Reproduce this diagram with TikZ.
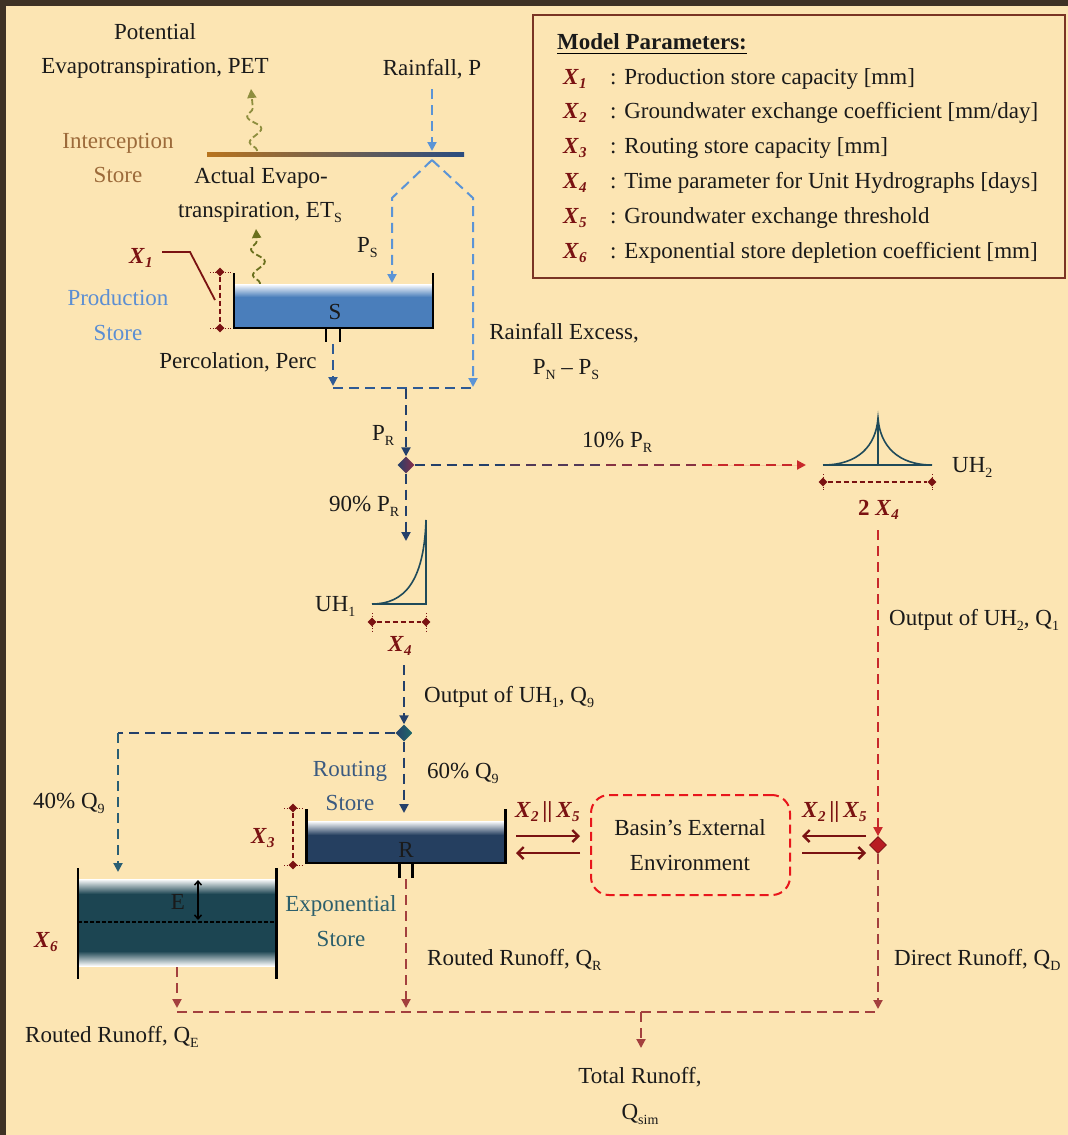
\documentclass[tikz,border=0pt]{standalone}
\usepackage{fontspec}
\setmainfont{Liberation Serif}
\usetikzlibrary{arrows.meta,shapes.geometric,decorations.pathmorphing,calc}
\definecolor{bg}{HTML}{FCE5B3}
\definecolor{framec}{HTML}{3E3225}
\definecolor{txtc}{HTML}{1A1A1A}
\definecolor{lblue}{HTML}{5B94D6}
\definecolor{mblue}{HTML}{2E5A94}
\definecolor{dblue}{HTML}{24406A}
\definecolor{teal2}{HTML}{2A5E74}
\definecolor{olive}{HTML}{8E8E3E}
\definecolor{dolive}{HTML}{6A701E}
\definecolor{pwater}{HTML}{4A7EBB}
\definecolor{rwater}{HTML}{253F60}
\definecolor{ewater}{HTML}{1C4552}
\definecolor{xred}{HTML}{7A1212}
\definecolor{rred}{HTML}{C8282B}
\definecolor{brun}{HTML}{A3403E}
\definecolor{uhc}{HTML}{1F4A5A}
\definecolor{basinc}{HTML}{E8161C}
\definecolor{prodc}{HTML}{5B8ED3}
\definecolor{routc}{HTML}{3B5A80}
\definecolor{expc}{HTML}{2C5F6C}
\definecolor{intc}{HTML}{9C6A3A}
\definecolor{intL}{HTML}{B8741E}
\definecolor{intR}{HTML}{2A4C80}
\definecolor{legbox}{HTML}{7A3424}
\definecolor{dOner}{HTML}{8A2C4A}
\definecolor{dTwor}{HTML}{1E6A6A}
\definecolor{dThree}{HTML}{B81C22}
\definecolor{dThreeb}{HTML}{7A1015}
\newcommand\sbs[1]{\raisebox{-5pt}{\fontsize{14}{14}\selectfont #1}}
\newcommand\xpar[1]{\textcolor{xred}{\textbf{\textit{X}}\raisebox{-4pt}{\fontsize{15}{15}\selectfont\bfseries\itshape #1}}}
\begin{document}
\begin{tikzpicture}[x=1pt,y=-1pt,
  txt/.style={inner sep=0pt, font=\fontsize{23}{35}\selectfont, text=txtc},
  dflow/.style={line width=2pt, dash pattern=on 10pt off 6pt},
  arr/.style={-{Triangle[length=9pt,width=9pt]}},
  wall/.style={line width=2.6pt, draw=black},
  dimln/.style={draw=xred, line width=2pt, dash pattern=on 5pt off 3pt},
  dimtick/.style={draw=xred, line width=1pt, dash pattern=on 1pt off 1.5pt},
  dimend/.style={diamond, fill=xred, inner sep=0pt, minimum size=9pt},
  xchg/.style={draw=xred, line width=2.4pt, -{Straight Barb[length=6pt,width=12pt]}},
  wavy/.style={decorate, decoration={snake, amplitude=6.5pt, segment length=26pt, pre length=1pt, post length=10pt}, line width=1.8pt, dash pattern=on 6pt off 3pt},
  uhl/.style={draw=uhc, line width=1.6pt}]
\fill[framec] (0,0) rectangle (1068,1135);
\fill[bg] (6,6) rectangle (1068,1135);
\useasboundingbox (0,0) rectangle (1068,1135);

% ---------- top texts
\node[txt, anchor=base] (potl) at (155,39) {Potential};
\node[txt, anchor=base] (pet) at (155,73) {Evapotranspiration, PET};
\node[txt, anchor=base] (rain) at (432,75) {Rainfall, P};
\node[txt, anchor=base, text=intc] (int1) at (118,148) {Interception};
\node[txt, anchor=base, text=intc] (int2) at (118,182) {Store};
\node[txt, anchor=base] (aet1) at (261,183) {Actual Evapo-};
\node[txt, anchor=base] (aet2) at (260,217) {transpiration, ET\sbs{S}};
\node[txt, anchor=base west] (ps) at (357,252) {P\sbs{S}};
\node[txt, anchor=base west] (x1) at (129,263) {\xpar{1}};
\node[txt, anchor=base, text=prodc] (prod1) at (118,305) {Production};
\node[txt, anchor=base, text=prodc] (prod2) at (118,340) {Store};
\node[txt, anchor=base] (perc) at (238,368) {Percolation, Perc};
\node[txt, anchor=base] (rex1) at (564,339) {Rainfall Excess,};
\node[txt, anchor=base] (rex2) at (566,374) {P\sbs{N} -- P\sbs{S}};

% ---------- legend
\draw[legbox, line width=2pt] (533,15) rectangle (1065,278);
\node[txt, anchor=base west, font=\fontsize{23}{35}\selectfont\bfseries] (mp) at (557,49) {Model Parameters:};
\draw[line width=1.6pt] ([yshift=-4pt]mp.south west) -- ([yshift=-4pt]mp.south east);
\foreach \i/\t in {1/{Production store capacity [mm]},2/{Groundwater exchange coefficient [mm/day]},3/{Routing store capacity [mm]},4/{Time parameter for Unit Hydrographs [days]},5/{Groundwater exchange threshold},6/{Exponential store depletion coefficient [mm]}}{
  \node[txt, anchor=base west] (xl\i) at (563,{84+34.9*(\i-1)}) {\xpar{\i}};
  \node[txt, anchor=base west] (xd\i) at (610,{84+34.9*(\i-1)}) {: \t};
}

% ---------- rainfall and interception
\coordinate (rtop) at (432,89);
\coordinate (rhit) at (432,151);
\draw[dflow, arr, lblue] (rtop) -- (rhit);
\shade[left color=intL, right color=intR] (207,152.5) rectangle (464,156);
\coordinate (apex) at (432,160);
\coordinate (psend) at (392,283);
\coordinate (rexend) at (473,387);
\draw[dflow, arr, lblue] (apex) -- (392,198) -- (psend);
\draw[dflow, arr, lblue] (apex) -- (473,198) -- (rexend);
\draw[wavy, olive, arr] (257,151) -- (251,89);
\draw[wavy, dolive, arr] (260,284) -- (256,229);

% ---------- production store
\fill[pwater] (234,284) rectangle (433,328);
\shade[top color=white, bottom color=pwater] (234,284) rectangle (433,297);
\draw[wall] (234,273) -- (234,328) -- (433,328) -- (433,273);
\draw[wall] (326,328) -- (326,342) (340,328) -- (340,342);
\node[txt, anchor=base] (slab) at (335,319) {S};
\node[dimend] (x1a) at (220,272) {};
\node[dimend] (x1b) at (220,328) {};
\draw[dimln] (x1a) -- (x1b);
\draw[dimtick] (210,272) -- (232,272) (210,328) -- (232,328);
\coordinate (x1lead) at (162,252);
\draw[xred, line width=1.8pt] (x1lead) -- (190,252) -- (215,300);

% ---------- percolation and P_R
\coordinate (outS) at (333,344);
\coordinate (percend) at (333,386);
\draw[dflow, arr, mblue] (outS) -- (percend);
\draw[dflow, mblue] (333,388) -- (473,388);
\coordinate (jn1) at (406,389);
\node[diamond, inner sep=0pt, minimum size=17pt, left color=dblue, right color=dOner] (d1) at (406,465) {};
\draw[dflow, arr, dblue] (jn1) -- (d1.north);
\node[txt, anchor=base west] (pr) at (372,440) {P\sbs{R}};
\node[txt, anchor=base west] (p10) at (582,447) {10\% P\sbs{R}};
\node[txt, anchor=base west] (p90) at (329,511) {90\% P\sbs{R}};

% 10% branch (colour gradient by segments)
\coordinate (c1) at (510,465);
\coordinate (c2) at (606,465);
\coordinate (c3) at (702,465);
\coordinate (uh2in) at (806,465);
\draw[dflow, draw=dblue] (d1.east) -- (c1);
\draw[dflow, draw=dblue!72!rred] (c1) -- (c2);
\draw[dflow, draw=dblue!40!rred] (c2) -- (c3);
\draw[dflow, arr, draw=rred, fill=rred] (c3) -- (uh2in);

% 90% branch and UH1
\coordinate (uh1in) at (406,541);
\draw[dflow, arr, dblue] (d1.south) -- (uh1in);
\draw[uhl] (372,604) .. controls (404,604) and (424,582) .. (426,520) -- (426,604) -- (372,604);
\node[txt, anchor=base west] (uh1) at (315,611) {UH\sbs{1}};
\node[dimend] (x4a) at (372,622) {};
\node[dimend] (x4b) at (426,622) {};
\draw[dimln] (x4a) -- (x4b);
\draw[dimtick] (372,613) -- (372,631) (426,613) -- (426,631);
\node[txt, anchor=base west] (x4) at (388,651) {\xpar{4}};

% UH2
\draw[uhl] (823,465) -- (932,465);
\draw[uhl] (823,465) .. controls (858,465) and (876,446) .. (878,418) .. controls (880,446) and (898,465) .. (932,465);
\draw[uhl] (878,418) -- (878,465);
\node[txt, anchor=base west] (uh2) at (952,472) {UH\sbs{2}};
\node[dimend] (x4c) at (823,482) {};
\node[dimend] (x4d) at (932,482) {};
\draw[dimln] (x4c) -- (x4d);
\draw[dimtick] (823,474) -- (823,491) (932,474) -- (932,491);
\node[txt, anchor=base west, text=xred] (x42) at (858,515) {\textbf{2} \xpar{4}};

% ---------- UH1 output and split
\coordinate (uh1out) at (404,665);
\node[diamond, inner sep=0pt, minimum size=17pt, left color=dblue, right color=dTwor] (d2) at (404,733) {};
\draw[dflow, arr, dblue] (uh1out) -- (d2.north);
\node[txt, anchor=base west] (ouh1) at (424,702) {Output of UH\sbs{1}, Q\sbs{9}};
\coordinate (c40) at (118,733);
\coordinate (expin) at (118,872);
\draw[dflow, dblue] (d2.west) -- (c40);
\draw[dflow, arr, teal2] (c40) -- (expin);
\node[txt, anchor=base west] (q40) at (33,808) {40\% Q\sbs{9}};
\coordinate (routin) at (404,813);
\draw[dflow, arr, dblue] (d2.south) -- (routin);
\node[txt, anchor=base west] (q60) at (427,778) {60\% Q\sbs{9}};
\node[txt, anchor=base, text=routc] (rout1) at (350,776) {Routing};
\node[txt, anchor=base, text=routc] (rout2) at (350,810) {Store};

% ---------- routing store
\fill[rwater] (306.5,821) rectangle (505.5,863);
\shade[top color=white, bottom color=rwater] (306.5,821) rectangle (505.5,835);
\draw[wall] (306.5,809) -- (306.5,863) -- (505.5,863) -- (505.5,809);
\draw[wall] (399.5,863) -- (399.5,878) (412.5,863) -- (412.5,878);
\node[txt, anchor=base] (rlab) at (406,857) {R};
\node[dimend] (x3a) at (293,808) {};
\node[dimend] (x3b) at (293,865) {};
\draw[dimln] (x3a) -- (x3b);
\draw[dimtick] (284,808) -- (303,808) (284,865) -- (303,865);
\node[txt, anchor=base west] (x3) at (251,843) {\xpar{3}};

% ---------- exponential store
\fill[ewater] (78,879) rectangle (276.5,966);
\shade[top color=white, bottom color=ewater] (78,879) rectangle (276.5,894);
\shade[top color=ewater, bottom color=white] (78,951) rectangle (276.5,966);
\draw[wall] (78,868) -- (78,979) (276.5,868) -- (276.5,979);
\draw[line width=1.5pt, dash pattern=on 4pt off 2pt] (78,922) -- (276.5,922);
\draw[line width=1.5pt, {Straight Barb[length=4pt,width=7pt]}-{Straight Barb[length=4pt,width=7pt]}] (198,880) -- (198,920);
\node[txt, anchor=base] (elab) at (178,909) {E};
\node[txt, anchor=base west] (x6) at (34,947) {\xpar{6}};
\node[txt, anchor=base, text=expc] (exp1) at (341,911) {Exponential};
\node[txt, anchor=base, text=expc] (exp2) at (341,946) {Store};

% ---------- basin and exchanges
\node[draw=basinc, line width=2pt, dash pattern=on 9pt off 5pt, rounded corners=18pt, minimum width=199pt, minimum height=100pt, inner sep=0pt] (basin) at (690.5,845) {};
\node[txt, anchor=base] (bas1) at (690,835) {Basin's External};
\node[txt, anchor=base] (bas2) at (690,870) {Environment};
\coordinate (xl1) at (516,836);
\coordinate (xl2) at (580,836);
\coordinate (xl3) at (580,853);
\coordinate (xl4) at (516,853);
\draw[xchg] (xl1) -- (xl2);
\draw[xchg] (xl3) -- (xl4);
\coordinate (xr1) at (866,836);
\coordinate (xr2) at (802,836);
\coordinate (xr3) at (802,853);
\coordinate (xr4) at (866,853);
\draw[xchg] (xr1) -- (xr2);
\draw[xchg] (xr3) -- (xr4);
\node[txt, anchor=base west] (xx1) at (515,817) {\xpar{2}\,\textcolor{xred}{\textbf{||}}\,\xpar{5}};
\node[txt, anchor=base west] (xx2) at (802,817) {\xpar{2}\,\textcolor{xred}{\textbf{||}}\,\xpar{5}};

% ---------- UH2 output and direct runoff
\coordinate (uh2out) at (878,530);
\node[diamond, inner sep=0pt, minimum size=17pt, fill=dThree, draw=dThreeb, line width=0.8pt] (d3) at (878,845) {};
\draw[dflow, arr, rred] (uh2out) -- (d3.north);
\node[txt, anchor=base west] (ouh2) at (889,625) {Output of UH\sbs{2}, Q\sbs{1}};

% ---------- runoff collection
\coordinate (qdend) at (878,1009);
\coordinate (qeout) at (177,967);
\coordinate (qeend) at (177,1008);
\coordinate (qrout) at (406,879);
\coordinate (qrend) at (406,1008);
\coordinate (totl) at (177,1012);
\coordinate (totr) at (878,1012);
\coordinate (totj) at (641,1012);
\coordinate (totend) at (641,1048);
\draw[dflow, brun] (totl) -- (totr);
\draw[dflow, arr, brun] (d3.south) -- (qdend);
\draw[dflow, arr, brun] (qeout) -- (qeend);
\draw[dflow, arr, brun] (qrout) -- (qrend);
\draw[dflow, arr, brun] (totj) -- (totend);
\node[txt, anchor=base west] (qr) at (427,965) {Routed Runoff, Q\sbs{R}};
\node[txt, anchor=base west] (qd) at (894,965) {Direct Runoff, Q\sbs{D}};
\node[txt, anchor=base west] (qe) at (25,1042) {Routed Runoff, Q\sbs{E}};
\node[txt, anchor=base] (tot1) at (640,1083) {Total Runoff,};
\node[txt, anchor=base] (tot2) at (640,1119) {Q\sbs{sim}};
\end{tikzpicture}
\end{document}
